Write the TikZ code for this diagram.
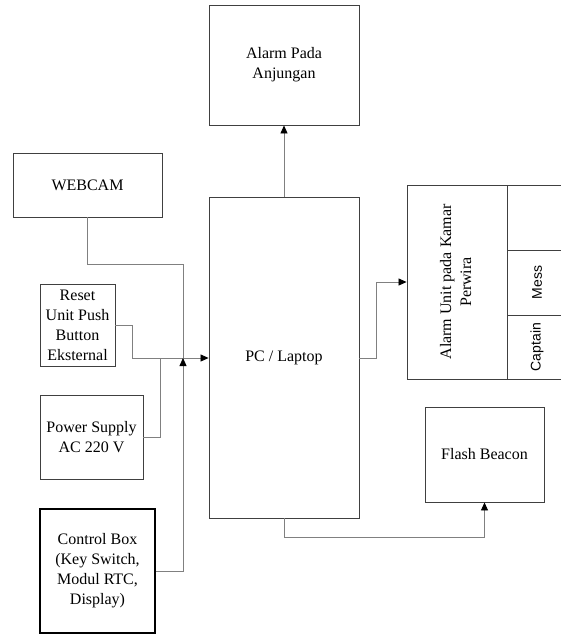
\documentclass[tikz,border=0pt]{standalone}
\usepackage{fontspec}
\setmainfont{Liberation Serif}
\newfontfamily\cellfont{Liberation Sans}
\usetikzlibrary{arrows.meta,positioning}
\definecolor{boxline}{RGB}{64,64,64}
\definecolor{wiregray}{RGB}{128,128,128}

\tikzset{
  block/.style={draw=boxline, line width=0.9pt, align=center, inner sep=0pt,
    font=\fontsize{16}{20}\selectfont},
  cell/.style={block, font=\cellfont\fontsize{14}{17}\selectfont},
  wire/.style={draw=wiregray, line width=0.8pt},
  tip/.style={-{Triangle[length=8pt,width=7pt,color=black]}},
}

\begin{document}
\begin{tikzpicture}[x=1pt,y=-1pt]
\useasboundingbox (0,0) rectangle (561,634);
\clip (0,0) rectangle (561,634);

% PC and the outputs
\node[block, minimum width=150pt, minimum height=321pt] (pc) at (284,357.5) {PC / Laptop};
\node[block, minimum width=150pt, minimum height=120pt] (alarm) at (284,65) {Alarm Pada\\Anjungan};
\node[block, minimum width=119pt, minimum height=95pt] (beacon) at (484.5,454.5) {Flash Beacon};

% Alarm unit panel (open to the right)
\node[block, minimum width=100pt, minimum height=194pt] (kamar) at (457,282)
  {\rotatebox{90}{\begin{tabular}{@{}c@{}}Alarm Unit pada Kamar\\Perwira\end{tabular}}};
\node[cell, minimum width=60pt, minimum height=65pt] (blank) at (537,217.5) {};
\node[cell, minimum width=60pt, minimum height=65pt] (mess) at (537,282.5) {\rotatebox{90}{Mess}};
\node[cell, minimum width=60pt, minimum height=64pt] (captain) at (537,347) {\rotatebox{90}{Captain}};

% Inputs
\node[block, minimum width=149pt, minimum height=64pt] (webcam) at (87.5,185) {WEBCAM};
\node[block, minimum width=75pt, minimum height=82pt] (reset) at (77.5,325) {Reset\\Unit Push\\Button\\Eksternal};
\node[block, minimum width=103pt, minimum height=84pt] (power) at (91.5,437) {Power Supply\\AC 220 V};
\node[block, draw=black, line width=1.6pt, minimum width=115pt, minimum height=124pt] (control) at (97.5,571)
  {Control Box\\(Key Switch,\\Modul RTC,\\Display)};

% Junctions of the input lines
\coordinate (jn) at (183,358);
\coordinate (pj) at (160,358);
\coordinate (wj) at (183,264);

\draw[wire, tip] (pc.north) -- (alarm.south);
\draw[wire] (webcam.south) |- (wj) -- (jn);
\draw[wire, tip] (reset.east) -- ++(17,0) |- (pc.west |- jn);
\draw[wire] (power.east) -| (pj);
\draw[wire, tip] (control.east) -| (jn);
\draw[wire, tip] (pc.east |- jn) -- ++(17,0) |- (kamar.west);
\draw[wire, tip] (pc.south) -- ++(0,19) -| (beacon.south);
\end{tikzpicture}
\end{document}
